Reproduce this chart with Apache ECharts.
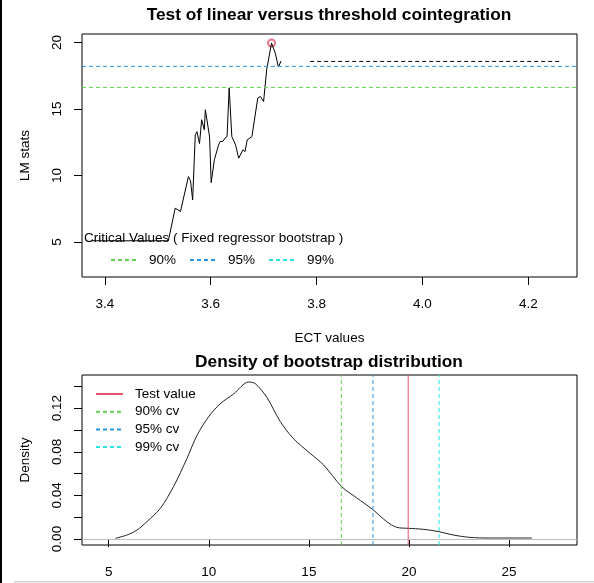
<!DOCTYPE html>
<html>
<head>
<meta charset="utf-8">
<script src="https://cdn.jsdelivr.net/npm/echarts@6.0.0/dist/echarts.min.js"></script>
<style>
  html, body { margin: 0; padding: 0; background: #fff; }
  #chart { width: 594px; height: 583px; }
</style>
</head>
<body>
<div id="chart"></div>
<script>
// top panel: LM statistic against threshold (ECT values)
var ectValues = [3.375, 3.52, 3.522, 3.533, 3.543, 3.558, 3.562, 3.566, 3.571, 3.574, 3.576, 3.579,
  3.583, 3.586, 3.588, 3.59, 3.593, 3.598, 3.601, 3.607, 3.615, 3.618, 3.623, 3.627, 3.631, 3.635,
  3.64, 3.647, 3.653, 3.661, 3.665, 3.669, 3.678, 3.689, 3.694, 3.7, 3.706, 3.715, 3.722, 3.728, 3.733];
var lmStats = [5.1, 5.1, 5.45, 7.55, 7.3, 9.92, 9.6, 8.17, 13.06, 13.3, 13.31, 12.4,
  14.19, 14.06, 13.44, 14.94, 15.07, 12.9, 9.47, 11.18, 12.31, 12.56, 12.56, 12.81, 12.93, 16.57,
  12.93, 12.31, 11.3, 11.93, 11.8, 12.68, 12.93, 15.82, 15.94, 15.56, 18.0, 19.95, 19.2, 18.15, 18.6];
var dashSegX = [3.788, 4.26];
var dashSegY = 18.57;
var topXTicks = [3.4, 3.6, 3.8, 4.0, 4.2];
var topYTicks = [5, 10, 15, 20];

// bottom panel: bootstrap density
var bootX = [5.34, 5.92, 6.42, 6.91, 7.58, 8.24, 8.91, 9.41, 9.99, 10.57, 11.24, 11.99, 12.32, 12.9,
  13.57, 14.23, 15.06, 15.73, 16.64, 17.39, 18.19, 18.89, 19.39, 19.96, 20.71, 21.5, 22.2, 23.03, 24.03, 26.14];
var bootDensity = [0.0006, 0.0037, 0.0082, 0.0159, 0.0281, 0.048, 0.0738, 0.095, 0.112, 0.124, 0.133, 0.144, 0.1425, 0.13,
  0.1077, 0.092, 0.0786, 0.068, 0.048, 0.0377, 0.027, 0.0159, 0.0107, 0.0098, 0.0089, 0.0067, 0.0037, 0.0015, 0.0009, 0.0009];
var botXTicks = [5, 10, 15, 20, 25];
var botYTicks = [0, 0.02, 0.04, 0.06, 0.08, 0.1, 0.12, 0.14];
var botYLabels = [0, 0.04, 0.08, 0.12];

var critValues = [16.62, 18.2, 21.5];
var critNames = ["90%", "95%", "99%"];
var testValue = 19.96;

var cvColors = ["#61D04F", "#2297E6", "#28E2E5"];
var red = "#DF536B";
var font = "Liberation Sans, Arial, sans-serif";

// axis extents (R adds 4% around the data)
var topX = [3.357, 4.292], topY = [2.38, 20.63];
var botX = [3.67, 28.39], botY = [-0.0055, 0.1504];

function zip(xs, ys) {
  return xs.map(function (x, i) { return [x, ys[i]]; });
}

var maxIdx = lmStats.indexOf(Math.max.apply(null, lmStats));

function xAxisCfg(gi, range, ticks, name) {
  return {
    type: "value", gridIndex: gi, min: range[0], max: range[1],
    name: name, nameLocation: "middle", nameGap: 54,
    nameTextStyle: { color: "#000", fontSize: 13.5, fontFamily: font },
    axisLine: { show: false },
    splitLine: { show: false },
    axisTick: { show: true, length: 8, customValues: ticks, lineStyle: { color: "#000" } },
    axisLabel: { customValues: ticks, margin: 20, color: "#000", fontSize: 13.5, fontFamily: font,
      formatter: function (v) { return gi === 0 ? v.toFixed(1) : String(v); } },
  };
}
function yAxisCfg(gi, range, ticks, labels, name, fmt) {
  return {
    type: "value", gridIndex: gi, min: range[0], max: range[1],
    name: name, nameLocation: "middle", nameGap: 50,
    nameTextStyle: { color: "#000", fontSize: 13.5, fontFamily: font },
    axisLine: { show: false },
    splitLine: { show: false },
    axisTick: { show: true, length: 8, customValues: ticks, lineStyle: { color: "#000" } },
    axisLabel: { customValues: labels, margin: 18, rotate: 90, color: "#000", fontSize: 13.5, fontFamily: font,
      formatter: fmt },
  };
}

function refLine(name, gi, data, color, dashed) {
  return {
    name: name, type: "line", xAxisIndex: gi, yAxisIndex: gi, data: data, symbol: "none",
    lineStyle: { color: color, width: 1, type: dashed ? [4, 3] : "solid" },
    itemStyle: { color: color, opacity: 0 },
  };
}

var series = [
  {
    name: "LM stats", type: "line", xAxisIndex: 0, yAxisIndex: 0,
    data: zip(ectValues, lmStats), symbol: "none",
    lineStyle: { color: "#000", width: 1 },
  },
  {
    name: "max", type: "scatter", xAxisIndex: 0, yAxisIndex: 0,
    data: [[ectValues[maxIdx], lmStats[maxIdx]]],
    symbol: "emptyCircle", symbolSize: 7,
    itemStyle: { color: red, borderColor: red, borderWidth: 1 },
  },
  refLine("segment", 0, [[dashSegX[0], dashSegY], [dashSegX[1], dashSegY]], "#000", true),
];

critValues.forEach(function (cv, i) {
  var d = cv <= topY[1] ? [[topX[0], cv], [topX[1], cv]] : [];
  series.push(refLine(critNames[i], 0, d, cvColors[i], true));
});

series.push({
  name: "density", type: "line", xAxisIndex: 1, yAxisIndex: 1,
  data: zip(bootX, bootDensity), symbol: "none", smooth: 0.3,
  lineStyle: { color: "#222", width: 1 },
  markLine: {
    silent: true, symbol: ["none", "none"], label: { show: false },
    lineStyle: { color: "#BEBEBE", width: 1, type: "solid" },
    data: [{ yAxis: 0 }],
  },
});
series.push(refLine("Test value", 1, [[testValue, botY[0]], [testValue, botY[1]]], red, false));
critValues.forEach(function (cv, i) {
  series.push(refLine(critNames[i] + " cv", 1, [[cv, botY[0]], [cv, botY[1]]], cvColors[i], true));
});

var chart = echarts.init(document.getElementById("chart"));
chart.setOption({
  animation: false,
  backgroundColor: "#fff",
  title: [
    { text: "Test of linear versus threshold cointegration", left: 329, top: 7, textAlign: "center", padding: 0,
      textStyle: { fontSize: 17.3, fontWeight: "bold", color: "#000", fontFamily: font } },
    { text: "Density of bootstrap distribution", left: 329, top: 354, textAlign: "center", padding: 0,
      textStyle: { fontSize: 17.3, fontWeight: "bold", color: "#000", fontFamily: font } },
    { text: "Critical Values ( Fixed regressor bootstrap )", left: 84, top: 231, padding: 0,
      textStyle: { fontSize: 13.5, fontWeight: "normal", color: "#000", fontFamily: font } },
  ],
  legend: [
    {
      data: critNames, left: 110, top: 253, orient: "horizontal",
      itemWidth: 27, itemHeight: 14, itemGap: 13, padding: 0,
      itemStyle: { opacity: 0 },
      textStyle: { fontSize: 13.5, color: "#000", fontFamily: font, padding: [0, 0, 0, 6] },
    },
    {
      data: ["Test value", "90% cv", "95% cv", "99% cv"], left: 95, top: 387, orient: "vertical",
      itemWidth: 27, itemHeight: 14, itemGap: 3.7, padding: 0,
      itemStyle: { opacity: 0 },
      textStyle: { fontSize: 13.5, color: "#000", fontFamily: font, padding: [0, 0, 0, 7] },
    },
  ],
  grid: [
    { left: 82, top: 34, width: 495, height: 243, show: true, borderColor: "#000", borderWidth: 1 },
    { left: 82, top: 375, width: 495, height: 170, show: true, borderColor: "#000", borderWidth: 1 },
  ],
  xAxis: [
    xAxisCfg(0, topX, topXTicks, "ECT values"),
    xAxisCfg(1, botX, botXTicks, ""),
  ],
  yAxis: [
    yAxisCfg(0, topY, topYTicks, topYTicks, "LM stats", function (v) { return String(v); }),
    yAxisCfg(1, botY, botYTicks, botYLabels, "Density", function (v) { return v.toFixed(2); }),
  ],
  graphic: [
    { type: "rect", left: 0, top: 0, shape: { width: 2, height: 583 }, style: { fill: "#000" } },
    { type: "rect", left: 14, top: 581, shape: { width: 580, height: 1.5 }, style: { fill: "#D4D4D4" } },
  ],
  series: series,
});
</script>
</body>
</html>
